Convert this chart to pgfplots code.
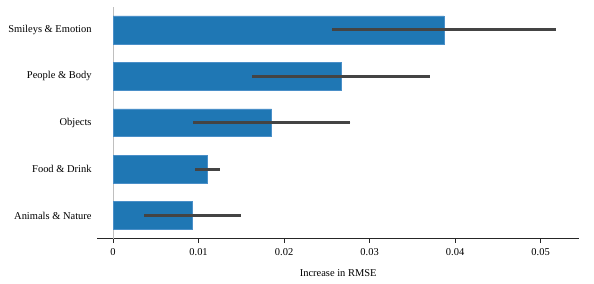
\documentclass[border=0pt]{standalone}
\usepackage{fontspec}
\setmainfont{Liberation Serif}
\usepackage{pgfplots}
\pgfplotsset{compat=1.18}
\usepackage{pgfplotstable}
\definecolor{barblue}{HTML}{1F77B4}
\definecolor{baredge}{HTML}{4A8FC8}
\definecolor{errgray}{HTML}{444444}
\pgfplotstableread{
y val err
0 0.00928 0.00566
1 0.01103 0.00146
2 0.01855 0.00920
3 0.02665 0.01040
4 0.03868 0.01308
}\datatab
\begin{document}
\begin{tikzpicture}
\begin{axis}[
  scale only axis,
  width=482bp, height=232bp,
  xmin=-0.00187, xmax=0.05452,
  ymin=-0.5, ymax=4.5,
  axis x line*=bottom,
  axis y line*=left,
  y axis line style={draw=none},
  x axis line style={-, color=black!85, line width=0.8bp},
  scaled x ticks=false,
  xtick={0,0.01,0.02,0.03,0.04,0.05},
  xticklabels={0,0.01,0.02,0.03,0.04,0.05},
  xtick align=outside,
  major tick length=4bp,
  x tick style={color=black!85, line width=0.8bp},
  ytick={0,1,2,3,4},
  yticklabels={Animals \& Nature, Food \& Drink, Objects, People \& Body, Smileys \& Emotion},
  y tick style={draw=none},
  tick label style={font=\fontsize{10.5}{12}\selectfont},
  yticklabel style={xshift=-2bp},
  xticklabel style={yshift=-2bp},
  /pgf/number format/assume math mode=true,
  xlabel={Increase in RMSE},
  xlabel style={font=\fontsize{10.5}{12}\selectfont, yshift=-7bp},
  clip=false,
]
\draw[color=black!25, line width=0.8bp] (axis cs:0,-0.5) -- (axis cs:0,4.5);
\addplot[xbar, bar width=0.6, fill=barblue, draw=baredge, line width=0.5bp,
  error bars/.cd, x dir=both, x explicit, error mark=none,
  error bar style={line width=3bp, color=errgray}]
  table[x=val, y=y, x error=err] {\datatab};
\end{axis}
\pgfresetboundingbox
\path[use as bounding box] ([xshift=-97bp,yshift=-44.3bp]current axis.south west) rectangle ([xshift=14.7bp,yshift=6.7bp]current axis.north east);
\end{tikzpicture}
\end{document}
